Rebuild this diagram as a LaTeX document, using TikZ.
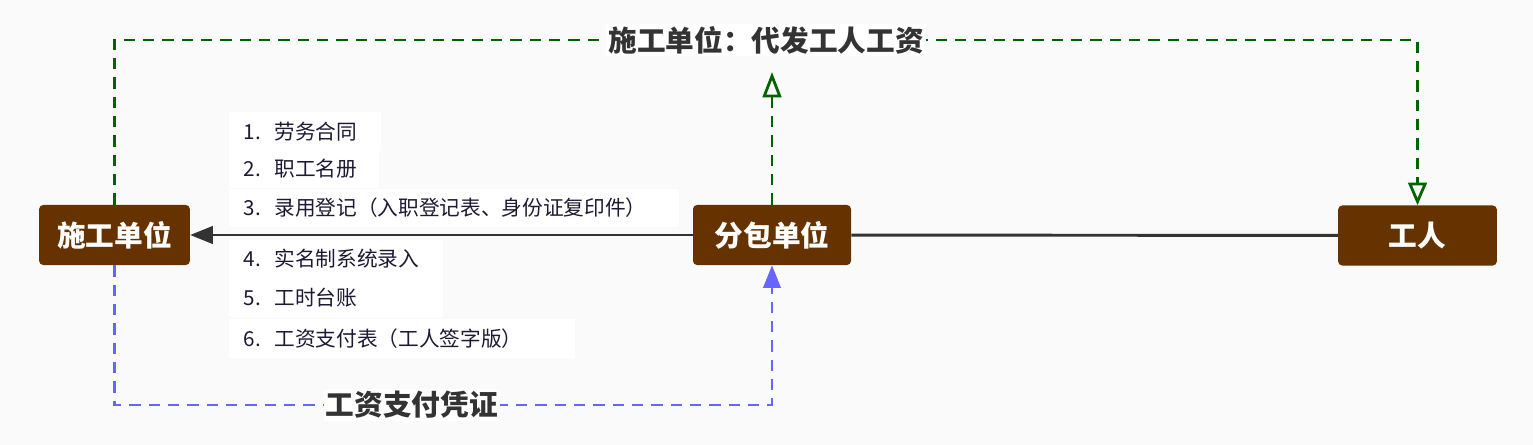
\documentclass[tikz,border=0pt]{standalone}
\usepackage{fontspec}
\newfontfamily\cjk{Noto Sans CJK SC}
\usetikzlibrary{arrows.meta}
\definecolor{boxbrown}{HTML}{663300}
\definecolor{pagegray}{HTML}{FAFAFA}
\definecolor{linegray}{HTML}{333333}
\definecolor{paygreen}{HTML}{006400}
\definecolor{proofblue}{HTML}{6666FF}
\definecolor{itemink}{HTML}{1E1A33}
\tikzset{
  party/.style={fill=boxbrown, rounded corners=3pt, text=white, inner sep=0pt, minimum height=45pt,
    font=\cjk\bfseries\fontsize{21.5pt}{24pt}\selectfont},
  edgelabel/.style={fill=white, text=linegray, inner sep=1.5pt,
    font=\cjk\bfseries\fontsize{21.5pt}{24pt}\selectfont},
  docitem/.style={fill=white, text=itemink, anchor=west, align=left, inner xsep=11pt, inner ysep=0pt,
    minimum height=29pt, font=\cjk\fontsize{15.5pt}{18pt}\selectfont},
  flow/.style={draw=linegray, line width=2.2pt},
  paid/.style={draw=paygreen, line width=2.1pt, dash pattern=on 8.5pt off 6pt},
  proof/.style={draw=proofblue, line width=2.1pt, dash pattern=on 8.5pt off 6pt}
}

\begin{document}
\begin{tikzpicture}[x=0.75pt,y=-0.75pt]
  \useasboundingbox (0,0) rectangle (1533,445);
  \fill[pagegray] (0,0) rectangle (1533,445);

  \coordinate (topline) at (0,40);
  \coordinate (lowline) at (0,405);
  \coordinate (uptip) at (0,72);

  \node[party, minimum width=113pt] (site) at (114.5,235) {施工单位};
  \node[party, minimum width=118.5pt] (sub) at (772,235) {分包单位};
  \node[party, minimum width=119pt] (crew) at (1417.5,235.5) {工人};

  \draw[flow] (crew) -- (sub);
  \draw[flow, -{Triangle[length=17pt,width=13pt]}] (sub) -- (site);

  \foreach \n/\yy/\ww/\txt in {1/131.5/92/劳务合同, 2/169/90/职工名册,
      3/208/315/录用登记（入职登记表、身份证复印件）, 4/259/138.5/实名制系统录入,
      5/297.5/138.5/工时台账, 6/338.5/237.5/工资支付表（工人签字版）}{
    \node[docitem, text width=\ww pt] (item\n) at (229,\yy) {\makebox[23pt][l]{\n.}\txt};
  }

  \draw[paid, -{Triangle[open,length=17pt,width=14pt]}] (site.north) -- (site.north |- topline)
    -- node[edgelabel] (agentpay) {施工单位：代发工人工资} (crew.north |- topline) -- (crew.north);
  \draw[paid, -{Triangle[open,length=19pt,width=14pt]}] (sub.north) -- (sub.north |- uptip);

  \draw[proof, -{Triangle[length=17pt,width=13pt]}] (site.south) -- (site.south |- lowline)
    -| node[edgelabel, pos=0.226] (payproof) {工资支付凭证} (sub.south);
\end{tikzpicture}
\end{document}
